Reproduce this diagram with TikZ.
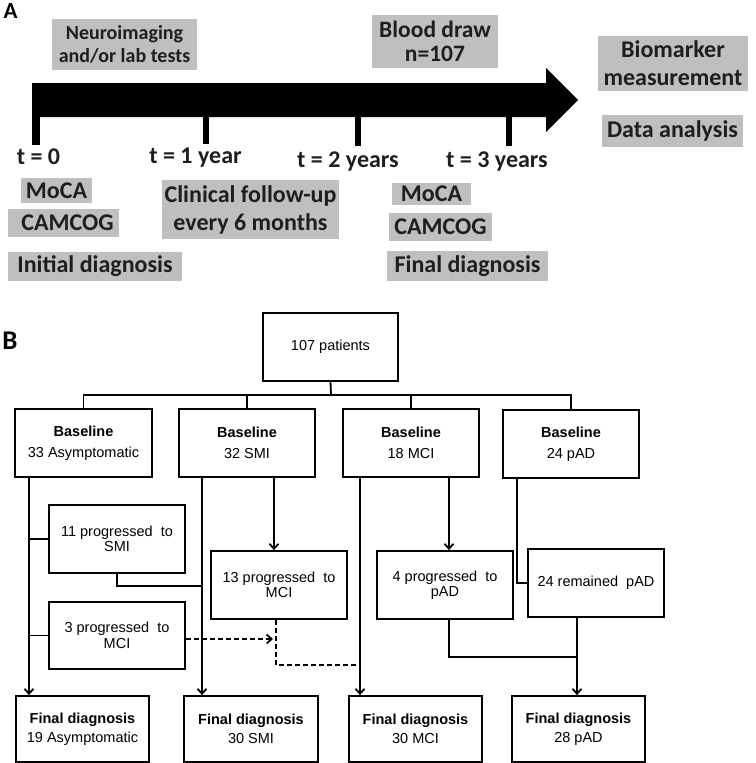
\documentclass[tikz,border=0pt]{standalone}
\usepackage{fontspec}
\newfontfamily\calibf{Carlito}
\newfontfamily\arialf{Liberation Sans}
\usetikzlibrary{arrows.meta}
\definecolor{boxgray}{RGB}{191,191,191}
\definecolor{txtdark}{RGB}{30,30,30}
\begin{document}
\begin{tikzpicture}[x=1pt,y=-1pt,
  gbox/.style={fill=boxgray, inner sep=0pt, text=txtdark, align=center,
    font=\calibf\bfseries\fontsize{24}{28}\selectfont},
  tlab/.style={inner sep=0pt, anchor=base, text=txtdark,
    font=\calibf\bfseries\fontsize{24}{28}\selectfont},
  plab/.style={inner sep=0pt, text=black, font=\calibf\bfseries\fontsize{23}{26}\selectfont},
  fbox/.style={draw, line width=1.8pt, inner sep=0pt, align=center,
    font=\arialf\fontsize{14.5}{21}\selectfont},
  pbox/.style={fbox, font=\arialf\fontsize{14.5}{15.5}\selectfont},
  conn/.style={line width=1.8pt},
  arr/.style={conn, -{Straight Barb[length=5pt,width=9pt]}},
  dconn/.style={conn, dash pattern=on 5pt off 3pt},
  darr/.style={dconn, -{Straight Barb[length=5pt,width=9pt]}}
]
\useasboundingbox (0,0) rectangle (755,763);

% ---------------- Part A ----------------
\node[plab] (labA) at (10.5,11) {A};

\fill (32,83) -- (546,83) -- (546,68) -- (578,100) -- (546,132) -- (546,117) -- (32,117) -- cycle;
\fill (32,116) rectangle (40,145);
\fill (203,116) rectangle (209,144);
\fill (355,116) rectangle (361,146);
\fill (506,116) rectangle (512,146);

\node[gbox, minimum width=145, minimum height=51,
  font=\calibf\bfseries\fontsize{20}{23}\selectfont] (nbox) at (124.5,44.5)
  {Neuroimaging\\and/or lab tests};
\node[gbox, minimum width=126, minimum height=53,
  font=\calibf\bfseries\fontsize{23.5}{24}\selectfont] (blood) at (435,41.5)
  {Blood draw\\n=107};
\node[gbox, minimum width=150, minimum height=55] (bio) at (673,63.5)
  {Biomarker\\measurement};
\node[gbox, minimum width=141, minimum height=32] (data) at (672.5,131)
  {Data analysis};

\node[tlab] (t0) at (38.5,164) {t = 0};
\node[tlab] (t1) at (195.5,163) {t = 1 year};
\node[tlab] (t2) at (348,167) {t = 2 years};
\node[tlab] (t3) at (497,167) {t = 3 years};

\node[gbox, minimum width=71, minimum height=25] (mocaL) at (56.5,190.5) {MoCA};
\node[gbox, minimum width=111, minimum height=28] (camL) at (63.5,223) {\hspace{8pt}CAMCOG};
\node[gbox, minimum width=174, minimum height=29] (init) at (95,266.5) {Initial diagnosis};
\node[gbox, minimum width=177, minimum height=59] (clin) at (250.5,209.5)
  {Clinical follow-up\\every 6 months};
\node[gbox, minimum width=79, minimum height=22] (mocaR) at (431.5,194) {MoCA};
\node[gbox, minimum width=103, minimum height=28] (camR) at (440.5,227) {CAMCOG};
\node[gbox, minimum width=161, minimum height=30] (finA) at (467.5,266) {Final diagnosis};

% ---------------- Part B ----------------
\node[plab, font=\calibf\bfseries\fontsize{27}{30}\selectfont] (labB) at (10,341) {B};

\node[fbox, minimum width=135, minimum height=68] (p107) at (330.5,347) {107 patients};

\node[fbox, minimum width=137, minimum height=68] (b1) at (83.5,443) {\textbf{Baseline}\\33 Asymptomatic};
\node[fbox, minimum width=136, minimum height=68] (b2) at (247,443) {\textbf{Baseline}\\32 SMI};
\node[fbox, minimum width=136, minimum height=68] (b3) at (411,443) {\textbf{Baseline}\\18 MCI};
\node[fbox, minimum width=136, minimum height=68] (b4) at (571,444) {\textbf{Baseline}\\24 pAD};

\node[pbox, minimum width=136, minimum height=68] (i11) at (117,539) {11 progressed\ \ to\\SMI};
\node[pbox, minimum width=136, minimum height=67] (i3) at (117,635.5) {3 progressed\ \ to\\MCI};
\node[pbox, minimum width=136, minimum height=68] (i13) at (279,585) {13 progressed\ \ to\\MCI};
\node[pbox, minimum width=136, minimum height=68] (i4) at (445,585) {4 progressed\ \ to\\pAD};
\node[pbox, minimum width=136, minimum height=68] (i24) at (596,583) {24 remained\ \ pAD};

\node[fbox, minimum width=133, minimum height=66, font=\arialf\fontsize{14.5}{19.5}\selectfont] (f1) at (82.5,729) {\textbf{Final diagnosis}\\19 Asymptomatic};
\node[fbox, minimum width=134, minimum height=66, font=\arialf\fontsize{14.5}{19.5}\selectfont] (f2) at (251,729) {\textbf{Final diagnosis}\\30 SMI};
\node[fbox, minimum width=133, minimum height=66, font=\arialf\fontsize{14.5}{19.5}\selectfont] (f3) at (415.5,729) {\textbf{Final diagnosis}\\30 MCI};
\node[fbox, minimum width=133, minimum height=66, font=\arialf\fontsize{14.5}{19.5}\selectfont] (f4) at (578.5,729) {\textbf{Final diagnosis}\\28 pAD};

% helper coordinates
\coordinate (hub) at (331,395);
\coordinate (x29) at (29,0);
\coordinate (x202) at (202,0);
\coordinate (x274) at (274,0);
\coordinate (x360) at (360,0);
\coordinate (x449) at (449,0);
\coordinate (x517) at (517,0);
\coordinate (x577) at (577,0);
\coordinate (j11) at (202,586);
\coordinate (d3) at (273,639);
\coordinate (dv) at (276,665);
\coordinate (d13) at (360,665);
\coordinate (j4) at (577,657);

% tree from 107 patients
\draw[conn] (p107.south) -- (hub);
\draw[conn] (b1.north) -- (b1.north |- hub) -- (b4.north |- hub) -- (b4.north);
\draw[conn] (b2.north) -- (b2.north |- hub);
\draw[conn] (b3.north) -- (b3.north |- hub);

% column 1
\draw[arr] (b1.south -| x29) -- (f1.north -| x29);
\draw[conn] (i11.west) -- (i11.west -| x29);
\draw[conn] (i3.west) -- (i3.west -| x29);

% column 2
\draw[arr] (b2.south -| x202) -- (f2.north -| x202);
\draw[conn] (i11.south) |- (j11);
\draw[arr] (b2.south -| x274) -- (i13.north -| x274);

% dashed
\draw[darr] (i3.east |- d3) -- (d3);
\draw[dconn] (i13.south -| dv) -- (dv) -- (d13);

% column 3
\draw[arr] (b3.south -| x360) -- (f3.north -| x360);
\draw[arr] (b3.south -| x449) -- (i4.north -| x449);

% column 4
\draw[conn] (b4.south -| x517) |- (i24.west);
\draw[conn] (i4.south -| x449) |- (j4);
\draw[arr] (i24.south -| x577) -- (f4.north -| x577);
\end{tikzpicture}
\end{document}
